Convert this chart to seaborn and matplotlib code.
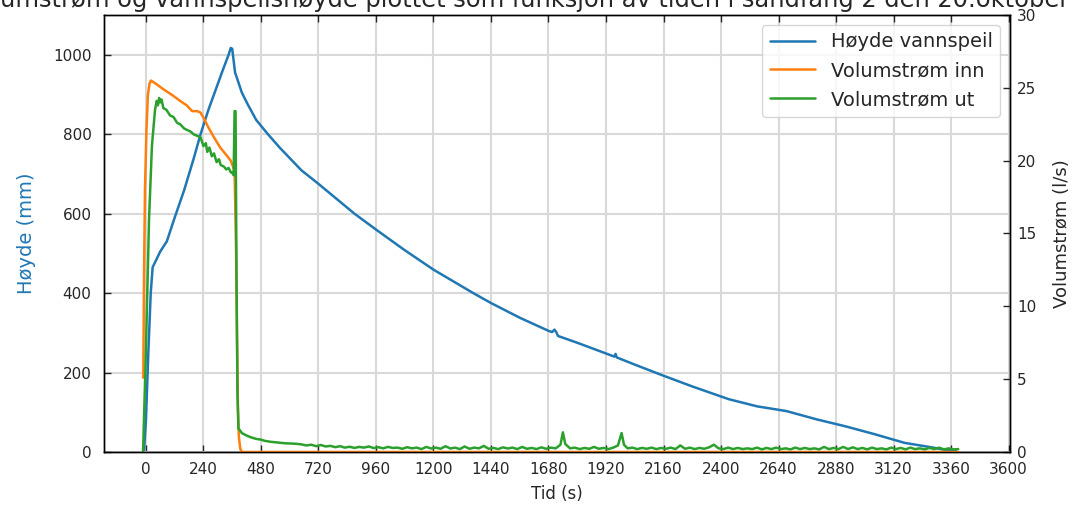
import numpy as np
import pandas as pd
import matplotlib
matplotlib.use("Agg")
import matplotlib.pyplot as plt
import seaborn as sns

# ---- data ----
t_hoyde = [-8, 0, 10, 20, 28, 40, 60, 87, 120, 160, 200, 228, 260, 290, 320, 345, 354, 360,
           366, 372, 379, 400, 424, 460, 509, 560, 649, 720, 800, 870, 960, 1080, 1200, 1366,
           1440, 1560, 1680, 1695, 1705, 1712, 1720, 1800, 1920, 1955, 1960, 1965, 2040, 2160,
           2280, 2432, 2550, 2673, 2800, 2917, 3040, 3166, 3276, 3330, 3380]
hoyde = [5, 80, 250, 400, 465, 480, 505, 530, 590, 660, 740, 800, 860, 910, 960, 1000, 1017, 1015,
         985, 955, 943, 905, 876, 836, 800, 765, 709, 675, 635, 600, 560, 508, 459, 400,
         375, 338, 305, 302, 308, 302, 292, 275, 248, 240, 247, 238, 220, 192,
         165, 133, 115, 103, 82, 65, 45, 23, 12, 6, 5]

t_inn = [-11, -8, -4, 2, 8, 15, 21, 40, 73, 110, 143, 170, 193, 214, 228, 242, 260, 284, 310,
         335, 354, 370, 376, 380, 384, 388, 394, 400, 600, 1200, 1800, 2400, 3000, 3390]
q_inn = [5.1, 12, 18, 22, 24.5, 25.3, 25.5, 25.3, 24.9, 24.5, 24.1, 23.8, 23.4, 23.4, 23.3, 22.9,
         22.3, 21.6, 20.9, 20.4, 20.0, 19.3, 14, 8, 3, 1, 0.2, 0.0, 0.0, 0.0, 0.0, 0.0, 0.0, 0.0]

t_ut = [-12, 0, 13, 25, 38, 45, 50, 55, 60, 65, 73, 85, 101, 115, 130, 143, 160, 186, 200, 215,
        228, 240, 250, 256, 265, 275, 284, 295, 305, 312, 325, 335, 345, 354, 360, 366, 370, 374,
        378, 382, 386, 392, 400, 412, 424, 440, 460, 480, 495, 520, 550, 580, 610, 635,
        650, 670, 690, 710, 730, 750, 770, 790, 810, 830, 850, 870, 890, 910, 930, 950, 970, 990,
        1010, 1030, 1050, 1070, 1090, 1110, 1130, 1150, 1170, 1190, 1210, 1230, 1250, 1270, 1290,
        1310, 1330, 1350, 1370, 1390, 1410, 1430, 1450, 1470, 1490, 1510, 1530, 1550, 1570, 1590,
        1610, 1630, 1650, 1670, 1690, 1710, 1730, 1740, 1750, 1770, 1790, 1810, 1830, 1850, 1870,
        1890, 1910, 1930, 1950, 1970, 1985, 1995, 2010, 2030, 2050, 2070, 2090, 2110, 2130, 2150,
        2170, 2190, 2210, 2230, 2250, 2270, 2290, 2310, 2330, 2350, 2370, 2390, 2410, 2430, 2450,
        2470, 2490, 2510, 2530, 2550, 2570, 2590, 2610, 2630, 2650, 2670, 2690, 2710, 2730, 2750,
        2770, 2790, 2810, 2830, 2850, 2870, 2890, 2910, 2930, 2950, 2970, 2990, 3010, 3030, 3050,
        3070, 3090, 3110, 3130, 3150, 3170, 3190, 3210, 3230, 3250, 3270, 3290, 3310, 3330, 3350,
        3370, 3390]
q_ut = [0, 7, 16, 21, 23.5, 24.1, 23.8, 24.3, 24.0, 24.2, 23.6, 23.5, 23.1, 23.0, 22.6, 22.5, 22.2,
        22.0, 21.8, 21.7, 21.6, 21.0, 21.2, 20.6, 20.9, 20.3, 20.5, 19.9, 20.1, 19.7, 19.6, 19.4,
        19.5, 19.2, 19.2, 19.0, 23.4, 23.4, 12, 4, 1.6, 1.5, 1.3, 1.2, 1.1, 1.0, 0.9, 0.85, 0.77,
        0.7, 0.65, 0.6, 0.58, 0.55,
        0.52, 0.45, 0.5, 0.4, 0.48, 0.38, 0.42, 0.33, 0.4, 0.3, 0.36, 0.28, 0.35, 0.3, 0.38, 0.27,
        0.33, 0.25, 0.35, 0.28, 0.3, 0.22, 0.33, 0.25, 0.3, 0.2, 0.35, 0.24, 0.3, 0.22, 0.4, 0.24,
        0.3, 0.2, 0.38, 0.22, 0.3, 0.25, 0.42, 0.22, 0.28, 0.2, 0.32, 0.24, 0.3, 0.2, 0.35, 0.22,
        0.28, 0.2, 0.32, 0.22, 0.3, 0.25, 0.5, 1.35, 0.55, 0.25, 0.3, 0.2, 0.28, 0.22, 0.35,
        0.22, 0.28, 0.2, 0.3, 0.45, 1.3, 0.5, 0.25, 0.3, 0.2, 0.28, 0.22, 0.3, 0.2, 0.28,
        0.22, 0.3, 0.2, 0.45, 0.22, 0.3, 0.2, 0.28, 0.22, 0.32, 0.5, 0.25, 0.2, 0.3, 0.2,
        0.28, 0.2, 0.25, 0.2, 0.3, 0.18, 0.28, 0.2, 0.3, 0.2, 0.25, 0.18, 0.3, 0.2, 0.28,
        0.2, 0.25, 0.18, 0.35, 0.2, 0.28, 0.2, 0.35, 0.2, 0.32, 0.2, 0.28, 0.18, 0.3, 0.2,
        0.25, 0.18, 0.3, 0.2, 0.28, 0.18, 0.3, 0.2, 0.25, 0.18, 0.28, 0.2, 0.3, 0.18, 0.25,
        0.18, 0.2]

x_ticks = [0, 240, 480, 720, 960, 1200, 1440, 1680, 1920, 2160, 2400, 2640, 2880, 3120, 3360, 3600]
y_ticks_left = [0, 200, 400, 600, 800, 1000]
y_ticks_right = [0, 5, 10, 15, 20, 25, 30]

title = "Volumstrøm og vannspeilshøyde plottet som funksjon av tiden i sandfang 2 den 20.oktober"

# ---- style ----
sns.set_style("white")
plt.rcParams['font.family'] = ['DejaVu Sans']

blue, orange, green = '#1f77b4', '#ff7f0e', '#2ca02c'

fig = plt.figure(figsize=(10.74, 5.07), dpi=100)
ax = fig.add_axes([104/1074, 1-452/507, (1010-104)/1074, (452-15)/507])
ax2 = ax.twinx()

df_h = pd.DataFrame({'t': t_hoyde, 'v': hoyde})
df_i = pd.DataFrame({'t': t_inn, 'v': q_inn})
df_u = pd.DataFrame({'t': t_ut, 'v': q_ut})

sns.lineplot(data=df_h, x='t', y='v', ax=ax, color=blue, lw=1.8, label='Høyde vannspeil', legend=False)
sns.lineplot(data=df_i, x='t', y='v', ax=ax2, color=orange, lw=1.8, label='Volumstrøm inn', legend=False)
sns.lineplot(data=df_u, x='t', y='v', ax=ax2, color=green, lw=1.8, label='Volumstrøm ut', legend=False)

ax.set_xlim(-175, 3606)
ax.set_ylim(0, 1100)
ax2.set_ylim(0, 30)
ax.set_xticks(x_ticks)
ax.set_yticks(y_ticks_left)
ax2.set_yticks(y_ticks_right)
ax.grid(True, color='#d9d9d9', lw=1.5)
ax.set_axisbelow(True)

ax.tick_params(axis='x', which='both', top=True, bottom=True, direction='in', length=5, width=1,
               labelsize=11, pad=7)
ax.tick_params(axis='y', direction='in', length=5, width=1, labelsize=11, left=True, right=False, pad=9)
ax2.tick_params(axis='y', direction='in', length=5, width=1, labelsize=11, right=True, pad=5)

for a in (ax, ax2):
    for s in a.spines.values():
        s.set_color('black')
        s.set_linewidth(1.0)

ax.set_xlabel('Tid (s)', fontsize=12, labelpad=6)
ax.set_ylabel('Høyde (mm)', fontsize=14, color=blue, labelpad=12)
ax2.set_ylabel('Volumstrøm (l/s)', fontsize=13, labelpad=12)
ax.set_title(title, fontsize=17.4, x=(517 - 104) / 906)

h1, l1 = ax.get_legend_handles_labels()
h2, l2 = ax2.get_legend_handles_labels()
ax2.legend(h1 + h2, l1 + l2, loc='upper right', fontsize=14, frameon=True, fancybox=True,
           edgecolor='#cccccc', handlelength=2.3)

fig.savefig('out.png', dpi=100)
